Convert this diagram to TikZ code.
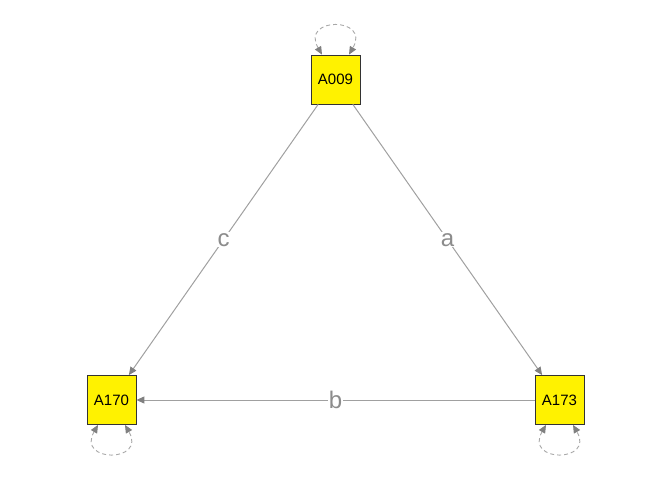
\documentclass[tikz,border=0pt]{standalone}
\usepackage{fontspec}
\setmainfont{Liberation Sans}
\usetikzlibrary{arrows.meta}
\definecolor{edgecol}{HTML}{A0A0A0}
\definecolor{tipcol}{HTML}{808080}
\definecolor{labcol}{HTML}{8C8C8C}
\definecolor{loopcol}{HTML}{A8A8A8}
\begin{document}
\begin{tikzpicture}[x=1pt,y=-1pt,
  vbox/.style={draw=black!80,line width=0.8pt,fill=yellow,minimum width=49pt,minimum height=49pt,inner sep=0pt,font=\fontsize{15}{17}\selectfont},
  edge/.style={draw=edgecol,line width=1pt,-{Triangle[length=8pt,width=7pt,fill=tipcol,color=tipcol]}},
  selfloop/.style={draw=loopcol,line width=0.9pt,dashed,dash pattern=on 4pt off 3pt,{Triangle[length=8pt,width=7pt,fill=tipcol,color=tipcol]}-{Triangle[length=8pt,width=7pt,fill=tipcol,color=tipcol]}},
  elab/.style={fill=white,text=labcol,inner sep=1pt,font=\fontsize{24}{26}\selectfont}]
\useasboundingbox (0,0) rectangle (672,480);
\node[vbox] (n9) at (335.5,79.5) {A009};
\node[vbox] (n170) at (111.5,400) {A170};
\node[vbox] (n173) at (559.5,400) {A173};
\draw[edge] (n9) -- node[elab] {a} (n173);
\draw[edge] (n9) -- node[elab] {c} (n170);
\draw[edge] (n173) -- node[elab] {b} (n170);
\coordinate (l9a) at ([xshift=-13.5pt]n9.north);
\coordinate (l9b) at ([xshift=13.5pt]n9.north);
\draw[selfloop] (l9a) .. controls +(-22,-38) and +(22,-38) .. (l9b);
\coordinate (l170a) at ([xshift=-13.5pt]n170.south);
\coordinate (l170b) at ([xshift=13.5pt]n170.south);
\draw[selfloop] (l170a) .. controls +(-22,38) and +(22,38) .. (l170b);
\coordinate (l173a) at ([xshift=-13.5pt]n173.south);
\coordinate (l173b) at ([xshift=13.5pt]n173.south);
\draw[selfloop] (l173a) .. controls +(-22,38) and +(22,38) .. (l173b);
\end{tikzpicture}
\end{document}
